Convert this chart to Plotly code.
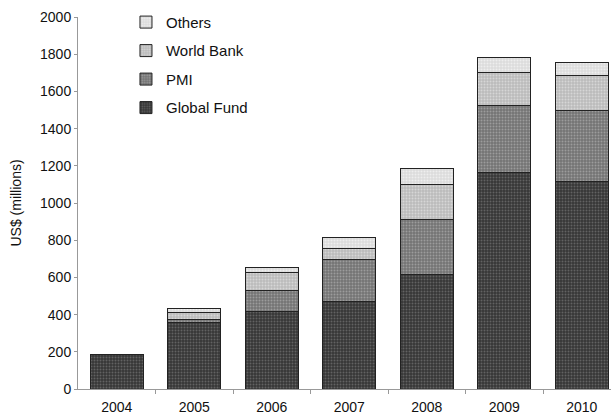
import plotly.graph_objects as go

years = ["2004", "2005", "2006", "2007", "2008", "2009", "2010"]
global_fund = [188, 355, 415, 468, 613, 1163, 1117]
pmi = [0, 20, 113, 229, 299, 360, 379]
world_bank = [0, 35, 97, 59, 188, 180, 187]
others = [0, 22, 27, 59, 83, 80, 75]
y_ticks = [0, 200, 400, 600, 800, 1000, 1200, 1400, 1600, 1800, 2000]

x = list(range(len(years)))
FONT = "Liberation Sans Narrow, Liberation Sans, Arial, sans-serif"
font_base = dict(family=FONT, size=14, color="#111111")

series = [
    ("Global Fund", global_fund, "#363636", "#8e8e8e", 4),
    ("PMI", pmi, "#747474", "#c4c4c4", 3),
    ("World Bank", world_bank, "#bababa", "#f2f2f2", 2),
    ("Others", others, "#dcdcdc", "#ffffff", 1),
]

fig = go.Figure()
for name, vals, bg, fg, rank in series:
    fig.add_trace(go.Bar(
        x=x, y=vals, name=name, width=0.68, legendrank=rank, legendgroup=name,
        marker=dict(
            color=bg,
            line=dict(color="#222222", width=1),
            pattern=dict(shape=".", bgcolor=bg, fgcolor=fg, size=3, solidity=0.35),
        ),
    ))

fig.update_layout(
    barmode="stack",
    width=611, height=418,
    margin=dict(l=78, r=0, t=17, b=29, autoexpand=False),
    paper_bgcolor="white", plot_bgcolor="white",
    font=font_base,
    showlegend=True,
    legend=dict(
        x=0.09, y=1.03, xanchor="left", yanchor="top",
        traceorder="grouped", font=dict(font_base, size=15),
        bgcolor="rgba(0,0,0,0)", itemwidth=30, tracegroupgap=6,
    ),
)
fig.update_xaxes(
    range=[-0.5, 6.377], tickmode="array", tickvals=x, ticktext=years,
    showline=True, linecolor="#999999", linewidth=1, automargin=False,
    showgrid=False, zeroline=False, ticks="", ticklen=0, ticklabelstandoff=5,
    minor=dict(tickvals=[0.5, 1.5, 2.5, 3.5, 4.5, 5.5], ticks="outside", ticklen=4, tickcolor="#999999"),
    tickfont=font_base,
)
fig.update_yaxes(
    range=[0, 2000], tickvals=y_ticks, automargin=False,
    showline=True, linecolor="#999999", linewidth=1,
    showgrid=False, zeroline=False, ticks="outside", ticklen=3, tickcolor="#999999",
    title=dict(text="US$ (millions)", font=font_base, standoff=15),
    tickfont=font_base,
)
fig.write_html(
    "out.html",
    config={"displayModeBar": False},
    post_script="document.body.style.margin='0';document.body.style.overflow='hidden';",
)
